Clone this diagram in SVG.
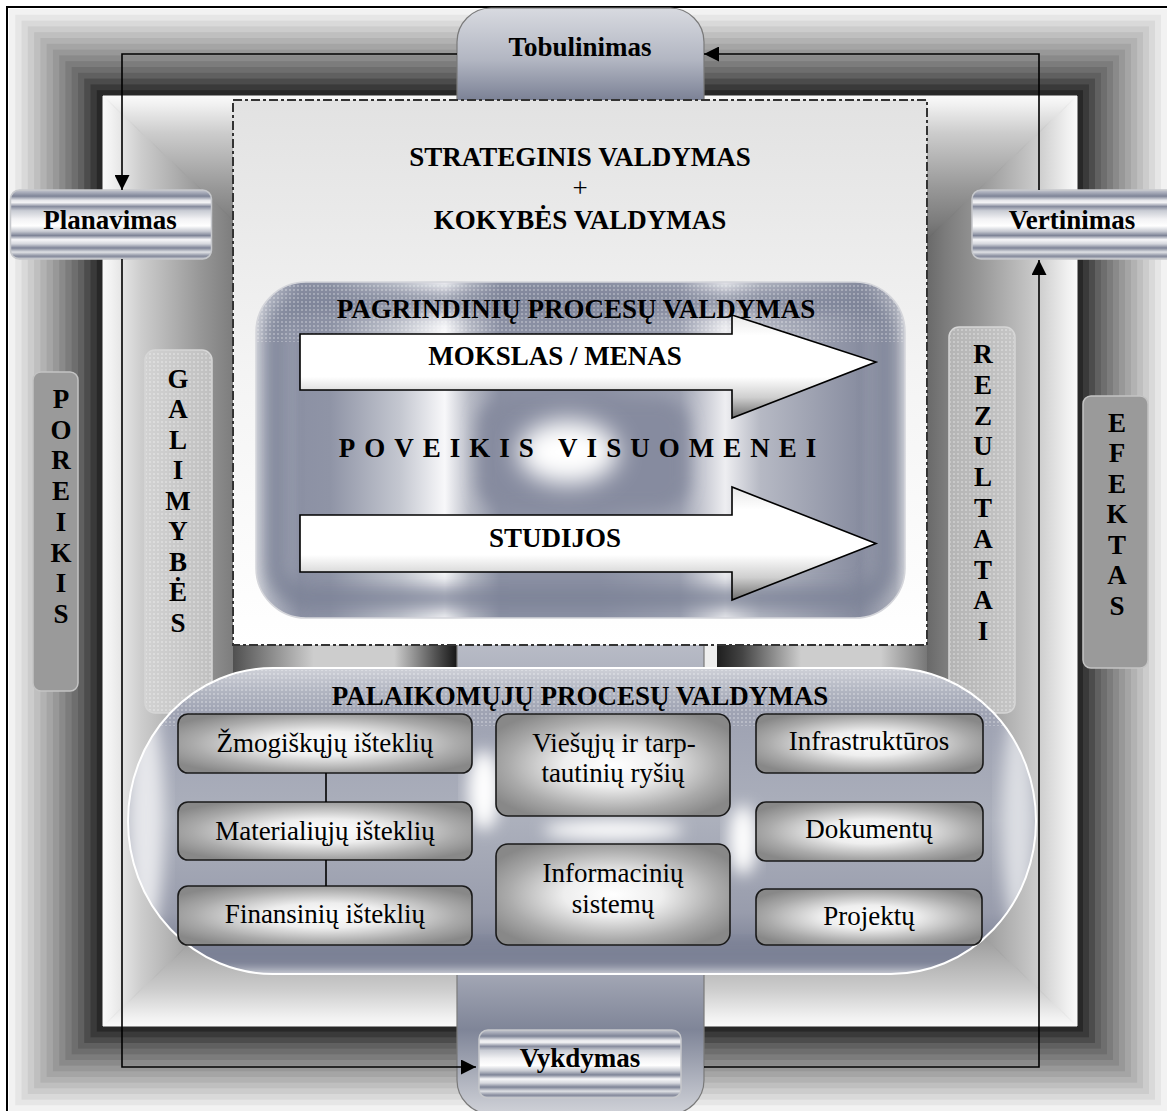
<svg xmlns="http://www.w3.org/2000/svg" width="1167" height="1111" viewBox="0 0 1167 1111">
<defs>
<style>
.hb{font-family:"Liberation Serif","Times New Roman",serif;font-weight:bold;font-size:27px;fill:#000;text-anchor:middle}
.tr{font-family:"Liberation Serif","Times New Roman",serif;font-size:27px;fill:#000;text-anchor:middle}
.box{fill:url(#boxG);stroke:#1a1a1a;stroke-width:1.6}
.conn{fill:none;stroke:#000;stroke-width:1.6}
.btn{fill:url(#chrome);stroke:#c6c8cc;stroke-width:1.5}
.side{fill:#9a9a9a;stroke:#c4c4c4;stroke-width:1.5}
.dotted{stroke:#d6d6d6;stroke-width:1.5}
.barrow{fill:url(#arrG);stroke:#000;stroke-width:1.6}
</style>
<marker id="ah" viewBox="0 0 15 15" refX="15" refY="7.5" markerWidth="15" markerHeight="15" markerUnits="userSpaceOnUse" orient="auto"><path d="M0,0 L15,7.5 L0,15 z" fill="#000"/></marker>
<linearGradient id="igBase"><stop offset="0" stop-color="#fafafa"/><stop offset="0.02" stop-color="#f0f0f0"/><stop offset="0.08" stop-color="#cccccc"/><stop offset="0.2" stop-color="#979797"/><stop offset="0.27" stop-color="#7c7c7c"/><stop offset="0.31" stop-color="#686868"/><stop offset="0.72" stop-color="#222"/><stop offset="1" stop-color="#111"/></linearGradient>
<linearGradient id="igL" href="#igBase" gradientUnits="userSpaceOnUse" x1="103" y1="0" x2="590" y2="0"/>
<linearGradient id="igR" href="#igBase" gradientUnits="userSpaceOnUse" x1="1077" y1="0" x2="590" y2="0"/>
<linearGradient id="igT" href="#igBase" gradientUnits="userSpaceOnUse" x1="0" y1="96" x2="0" y2="561"/>
<linearGradient id="igB" href="#igBase" gradientUnits="userSpaceOnUse" x1="0" y1="1026" x2="0" y2="561"/>
<linearGradient id="stripL" gradientUnits="userSpaceOnUse" x1="233" y1="0" x2="457" y2="0"><stop offset="0" stop-color="#505050"/><stop offset="0.36" stop-color="#cdcdcd"/><stop offset="0.72" stop-color="#cdcdcd"/><stop offset="0.9" stop-color="#555"/><stop offset="1" stop-color="#161616"/></linearGradient>
<linearGradient id="stripR" gradientUnits="userSpaceOnUse" x1="717" y1="0" x2="927" y2="0"><stop offset="0" stop-color="#1e1e1e"/><stop offset="0.12" stop-color="#444"/><stop offset="0.4" stop-color="#cdcdcd"/><stop offset="0.78" stop-color="#cdcdcd"/><stop offset="1" stop-color="#777"/></linearGradient>
<linearGradient id="barG" gradientUnits="userSpaceOnUse" x1="0" y1="8" x2="0" y2="1114"><stop offset="0" stop-color="#d8dae0"/><stop offset="0.047" stop-color="#b2b6c2"/><stop offset="0.083" stop-color="#7c8296"/><stop offset="0.09" stop-color="#9a9eac"/><stop offset="0.576" stop-color="#b8bbc6"/><stop offset="0.597" stop-color="#b0b4c0"/><stop offset="0.874" stop-color="#a2a6b4"/><stop offset="0.924" stop-color="#7f8598"/><stop offset="1" stop-color="#d0d2d8"/></linearGradient>
<linearGradient id="dashG" x1="0" y1="0" x2="0" y2="1"><stop offset="0" stop-color="#e2e2e2"/><stop offset="0.5" stop-color="#f4f4f4"/><stop offset="1" stop-color="#fff"/></linearGradient>
<linearGradient id="chrome" x1="0" y1="0" x2="0" y2="1"><stop offset="0" stop-color="#c4c7cf"/><stop offset="0.04" stop-color="#a6aab8"/><stop offset="0.09" stop-color="#7e8497"/><stop offset="0.15" stop-color="#e6e7eb"/><stop offset="0.18" stop-color="#f4f4f6"/><stop offset="0.24" stop-color="#878c9e"/><stop offset="0.3" stop-color="#c9ccd4"/><stop offset="0.42" stop-color="#f2f2f4"/><stop offset="0.52" stop-color="#fff"/><stop offset="0.6" stop-color="#c6c9d1"/><stop offset="0.66" stop-color="#7e8497"/><stop offset="0.72" stop-color="#f7f7f9"/><stop offset="0.78" stop-color="#d6d8de"/><stop offset="0.84" stop-color="#7e8497"/><stop offset="0.9" stop-color="#dfe1e5"/><stop offset="0.96" stop-color="#858a9c"/><stop offset="1" stop-color="#c4c7cf"/></linearGradient>
<radialGradient id="boxG" cx="0.5" cy="0.5" r="0.6"><stop offset="0" stop-color="#fff"/><stop offset="0.35" stop-color="#eeeeee"/><stop offset="0.75" stop-color="#aaaaaa"/><stop offset="1" stop-color="#888888"/></radialGradient>
<linearGradient id="arrG" x1="0" y1="0" x2="0" y2="1"><stop offset="0" stop-color="#e8e8e8"/><stop offset="0.2" stop-color="#fff"/><stop offset="0.6" stop-color="#fff"/><stop offset="0.8" stop-color="#cfcfcf"/><stop offset="1" stop-color="#6e6e6e"/></linearGradient>
<linearGradient id="pgBase" gradientUnits="userSpaceOnUse" x1="256" y1="0" x2="905" y2="0"><stop offset="0" stop-color="#d4d6dc"/><stop offset="0.022" stop-color="#b4b8c4"/><stop offset="0.068" stop-color="#8c91a4"/><stop offset="0.114" stop-color="#8f94a6"/><stop offset="0.222" stop-color="#c4c7d0"/><stop offset="0.291" stop-color="#f8f8fa"/><stop offset="0.33" stop-color="#b8bbc6"/><stop offset="0.376" stop-color="#8c91a4"/><stop offset="0.53" stop-color="#8c91a4"/><stop offset="0.653" stop-color="#9ea2b2"/><stop offset="0.723" stop-color="#eeeef1"/><stop offset="0.777" stop-color="#b6b9c4"/><stop offset="0.931" stop-color="#888da0"/><stop offset="0.985" stop-color="#b0b3be"/><stop offset="1" stop-color="#d4d6dc"/></linearGradient>
<linearGradient id="plBase" gradientUnits="userSpaceOnUse" x1="0" y1="668" x2="0" y2="974"><stop offset="0" stop-color="#cfd1d8"/><stop offset="0.08" stop-color="#b0b4c0"/><stop offset="0.15" stop-color="#9ea2b2"/><stop offset="0.5" stop-color="#acb0bc"/><stop offset="0.8" stop-color="#989cac"/><stop offset="0.9" stop-color="#82879a"/><stop offset="0.96" stop-color="#888da0"/><stop offset="1" stop-color="#d6d8de"/></linearGradient>
<linearGradient id="galG" x1="0" y1="0" x2="1" y2="0"><stop offset="0" stop-color="#d2d2d2"/><stop offset="1" stop-color="#c0c0c0"/></linearGradient>
<linearGradient id="rezG" x1="0" y1="0" x2="1" y2="0"><stop offset="0" stop-color="#b4b4b4"/><stop offset="1" stop-color="#c6c6c6"/></linearGradient>
<pattern id="dots" width="4" height="4" patternUnits="userSpaceOnUse"><circle cx="2" cy="2" r="0.8" fill="#fff" fill-opacity="0.6"/></pattern>
<filter id="b8" x="-30%" y="-30%" width="160%" height="160%"><feGaussianBlur stdDeviation="8"/></filter>
<filter id="b12" x="-40%" y="-40%" width="180%" height="180%"><feGaussianBlur stdDeviation="12"/></filter>
<clipPath id="cpPg"><rect x="256" y="282" width="649" height="336" rx="50"/></clipPath>
<clipPath id="cpPl"><rect x="128" y="668" width="908" height="306" rx="145" ry="153"/></clipPath>
</defs>

<g id="frame">
<rect x="9" y="9" width="1158" height="1102" fill="#f2f2f2"/>
<rect x="15.3" y="14.8" width="1145.7" height="1090.5" fill="#e6e6e6"/>
<rect x="21.5" y="20.6" width="1133.5" height="1079.1" fill="#d9d9d9"/>
<rect x="27.8" y="26.4" width="1121.2" height="1067.6" fill="#cccccc"/>
<rect x="34.1" y="32.2" width="1108.9" height="1056.1" fill="#bfbfbf"/>
<rect x="40.4" y="38" width="1096.7" height="1044.7" fill="#b2b2b2"/>
<rect x="46.6" y="43.8" width="1084.4" height="1033.2" fill="#a5a5a5"/>
<rect x="52.9" y="49.6" width="1072.1" height="1021.7" fill="#989898"/>
<rect x="59.2" y="55.4" width="1059.8" height="1010.2" fill="#8a8a8a"/>
<rect x="65.4" y="61.2" width="1047.6" height="998.8" fill="#7c7c7c"/>
<rect x="71.7" y="67" width="1035.3" height="987.3" fill="#6e6e6e"/>
<rect x="78" y="72.8" width="1023" height="975.8" fill="#606060"/>
<rect x="84.2" y="78.6" width="1010.8" height="964.4" fill="#4c4c4c"/>
<rect x="90.5" y="84.4" width="998.5" height="952.9" fill="#3a3a3a"/>
<rect x="96.8" y="90.2" width="986.2" height="941.4" fill="#282828"/>
<path d="M103,96 L590,561 L103,1026 Z" fill="url(#igL)" stroke="url(#igL)"/>
<path d="M1077,96 L590,561 L1077,1026 Z" fill="url(#igR)" stroke="url(#igR)"/>
<path d="M103,96 L1077,96 L590,561 Z" fill="url(#igT)" stroke="url(#igT)"/>
<path d="M103,1026 L1077,1026 L590,561 Z" fill="url(#igB)" stroke="url(#igB)"/>
<rect x="233" y="645" width="224" height="35" fill="url(#stripL)"/>
<rect x="704" y="645" width="13" height="35" fill="#eeeeee"/>
<rect x="717" y="645" width="210" height="35" fill="url(#stripR)"/>
<rect x="7" y="7" width="1165" height="1110" fill="none" stroke="#000" stroke-width="2"/>
</g>

<g id="cycle-bar">
<rect x="457" y="8" width="247" height="1106" rx="34" fill="url(#barG)" stroke="#7a7a7a" stroke-width="1.2"/>
</g>

<g id="tobulinimas">
<text class="hb" x="580" y="56">Tobulinimas</text>
</g>

<g id="strateginis">
<rect x="233" y="100" width="694" height="545" fill="url(#dashG)" stroke="#333" stroke-width="2" stroke-dasharray="9 3 3 3"/>
<text class="hb" x="580" y="166">STRATEGINIS VALDYMAS</text>
<text class="tr" x="580" y="197">+</text>
<text class="hb" x="580" y="229">KOKYBĖS VALDYMAS</text>
</g>

<g id="pagrindiniai">
<rect x="256" y="282" width="649" height="336" rx="50" fill="url(#pgBase)"/>
<g clip-path="url(#cpPg)">
<rect x="276" y="302" width="609" height="296" rx="34" fill="none" stroke="#7c8296" stroke-width="22" filter="url(#b8)" opacity="0.85"/>
<rect x="256" y="284" width="649" height="58" fill="url(#dots)"/>
<rect x="478" y="398" width="210" height="112" rx="28" fill="#868b9f" filter="url(#b8)"/>
<ellipse cx="568" cy="452" rx="50" ry="32" fill="#fff" filter="url(#b12)"/>
</g>
<rect x="256" y="282" width="649" height="336" rx="50" fill="none" stroke="#d4d5da" stroke-width="1.5"/>
<text class="hb" x="576" y="318">PAGRINDINIŲ PROCESŲ VALDYMAS</text>
</g>

<g id="mokslas">
<path class="barrow" d="M300,334 H732 V315 L876,362 L732,418 V390 H300 Z"/>
<text class="hb" x="555" y="365">MOKSLAS / MENAS</text>
</g>

<g id="poveikis">
<text class="hb" x="582" y="457" font-size="25" letter-spacing="9">POVEIKIS VISUOMENEI</text>
</g>

<g id="studijos">
<path class="barrow" d="M300,515 H732 V487 L876,543.5 L732,600 V572 H300 Z"/>
<text class="hb" x="555" y="547">STUDIJOS</text>
</g>

<g id="poreikis">
<rect class="side" x="33" y="372" width="45" height="319" rx="8"/>
<text class="hb"><tspan x="61" y="408">P</tspan><tspan x="61" y="439">O</tspan><tspan x="61" y="469">R</tspan><tspan x="61" y="500">E</tspan><tspan x="61" y="531">I</tspan><tspan x="61" y="562">K</tspan><tspan x="61" y="592">I</tspan><tspan x="61" y="623">S</tspan></text>
</g>

<g id="galimybes">
<rect class="dotted" x="145" y="350" width="67" height="363" rx="10" fill="url(#galG)"/>
<rect x="146" y="351" width="65" height="361" rx="9" fill="url(#dots)"/>
<text class="hb"><tspan x="178" y="388">G</tspan><tspan x="178" y="418">A</tspan><tspan x="178" y="449">L</tspan><tspan x="178" y="479">I</tspan><tspan x="178" y="510">M</tspan><tspan x="178" y="540">Y</tspan><tspan x="178" y="571">B</tspan><tspan x="178" y="601">Ė</tspan><tspan x="178" y="632">S</tspan></text>
</g>

<g id="rezultatai">
<rect class="dotted" x="949" y="327" width="66" height="386" rx="10" fill="url(#rezG)"/>
<rect x="950" y="328" width="64" height="384" rx="9" fill="url(#dots)"/>
<text class="hb"><tspan x="983" y="363">R</tspan><tspan x="983" y="394">E</tspan><tspan x="983" y="425">Z</tspan><tspan x="983" y="455">U</tspan><tspan x="983" y="486">L</tspan><tspan x="983" y="517">T</tspan><tspan x="983" y="548">A</tspan><tspan x="983" y="579">T</tspan><tspan x="983" y="609">A</tspan><tspan x="983" y="640">I</tspan></text>
</g>

<g id="efektas">
<rect class="side" x="1083" y="396" width="65" height="272" rx="8"/>
<text class="hb"><tspan x="1117" y="432">E</tspan><tspan x="1117" y="462">F</tspan><tspan x="1117" y="493">E</tspan><tspan x="1117" y="523">K</tspan><tspan x="1117" y="554">T</tspan><tspan x="1117" y="584">A</tspan><tspan x="1117" y="615">S</tspan></text>
</g>

<g id="palaikomieji">
<rect x="128" y="668" width="908" height="306" rx="145" ry="153" fill="url(#plBase)"/>
<g clip-path="url(#cpPl)">
<rect x="128" y="670" width="908" height="56" fill="url(#dots)"/>
<ellipse cx="146" cy="820" rx="18" ry="120" fill="#e6e7eb" filter="url(#b8)"/>
<ellipse cx="1018" cy="820" rx="16" ry="110" fill="#dcdee3" filter="url(#b8)"/>
<ellipse cx="484" cy="790" rx="16" ry="40" fill="#fff" filter="url(#b8)"/>
<ellipse cx="613" cy="830" rx="70" ry="10" fill="#fff" filter="url(#b8)"/>
<ellipse cx="743" cy="840" rx="14" ry="35" fill="#fff" filter="url(#b8)"/>
<rect x="128" y="942" width="908" height="24" fill="#7a8094" filter="url(#b8)"/>
</g>
<rect x="128" y="668" width="908" height="306" rx="145" ry="153" fill="none" stroke="#fff" stroke-width="2"/>
<text class="hb" x="580" y="705">PALAIKOMŲJŲ PROCESŲ VALDYMAS</text>
</g>

<g id="zmogiskieji">
<rect class="box" x="178" y="714" width="294" height="59" rx="10"/>
<text class="tr" x="325" y="752">Žmogiškųjų išteklių</text>
</g>
<g id="materialieji">
<rect class="box" x="178" y="802" width="294" height="58" rx="10"/>
<text class="tr" x="325" y="840">Materialiųjų išteklių</text>
</g>
<g id="finansiniai">
<rect class="box" x="178" y="886" width="294" height="59" rx="10"/>
<text class="tr" x="325" y="923">Finansinių išteklių</text>
</g>
<g id="viesieji">
<rect class="box" x="496" y="714" width="234" height="102" rx="12"/>
<text class="tr" x="614" y="752">Viešųjų ir tarp-</text>
<text class="tr" x="613" y="782">tautinių ryšių</text>
</g>
<g id="informacines">
<rect class="box" x="496" y="844" width="234" height="101" rx="12"/>
<text class="tr" x="613" y="882">Informacinių</text>
<text class="tr" x="613" y="913">sistemų</text>
</g>
<g id="infrastruktura">
<rect class="box" x="756" y="714" width="227" height="59" rx="10"/>
<text class="tr" x="869" y="750">Infrastruktūros</text>
</g>
<g id="dokumentai">
<rect class="box" x="756" y="802" width="227" height="59" rx="10"/>
<text class="tr" x="869" y="838">Dokumentų</text>
</g>
<g id="projektai">
<rect class="box" x="756" y="889" width="226" height="56" rx="10"/>
<text class="tr" x="869" y="925">Projektų</text>
</g>

<g id="planavimas">
<rect class="btn" x="10.5" y="190" width="201" height="69" rx="9"/>
<text class="hb" x="110" y="229">Planavimas</text>
</g>
<g id="vertinimas">
<rect class="btn" x="972" y="190" width="205" height="69" rx="9"/>
<text class="hb" x="1072" y="229">Vertinimas</text>
</g>
<g id="vykdymas">
<rect class="btn" x="479" y="1030" width="202" height="68" rx="9"/>
<text class="hb" x="580" y="1067">Vykdymas</text>
</g>

<g id="connectors">
<path class="conn" d="M457,54 H122 V190" marker-end="url(#ah)"/>
<path class="conn" d="M122,259 V1067 H476" marker-end="url(#ah)"/>
<path class="conn" d="M704,1067 H1039 V260" marker-end="url(#ah)"/>
<path class="conn" d="M1039,190 V54 H704" marker-end="url(#ah)"/>
<line x1="326" y1="773" x2="326" y2="802" stroke="#000" stroke-width="1.6"/>
<line x1="326" y1="860" x2="326" y2="886" stroke="#000" stroke-width="1.6"/>
</g>
</svg>
